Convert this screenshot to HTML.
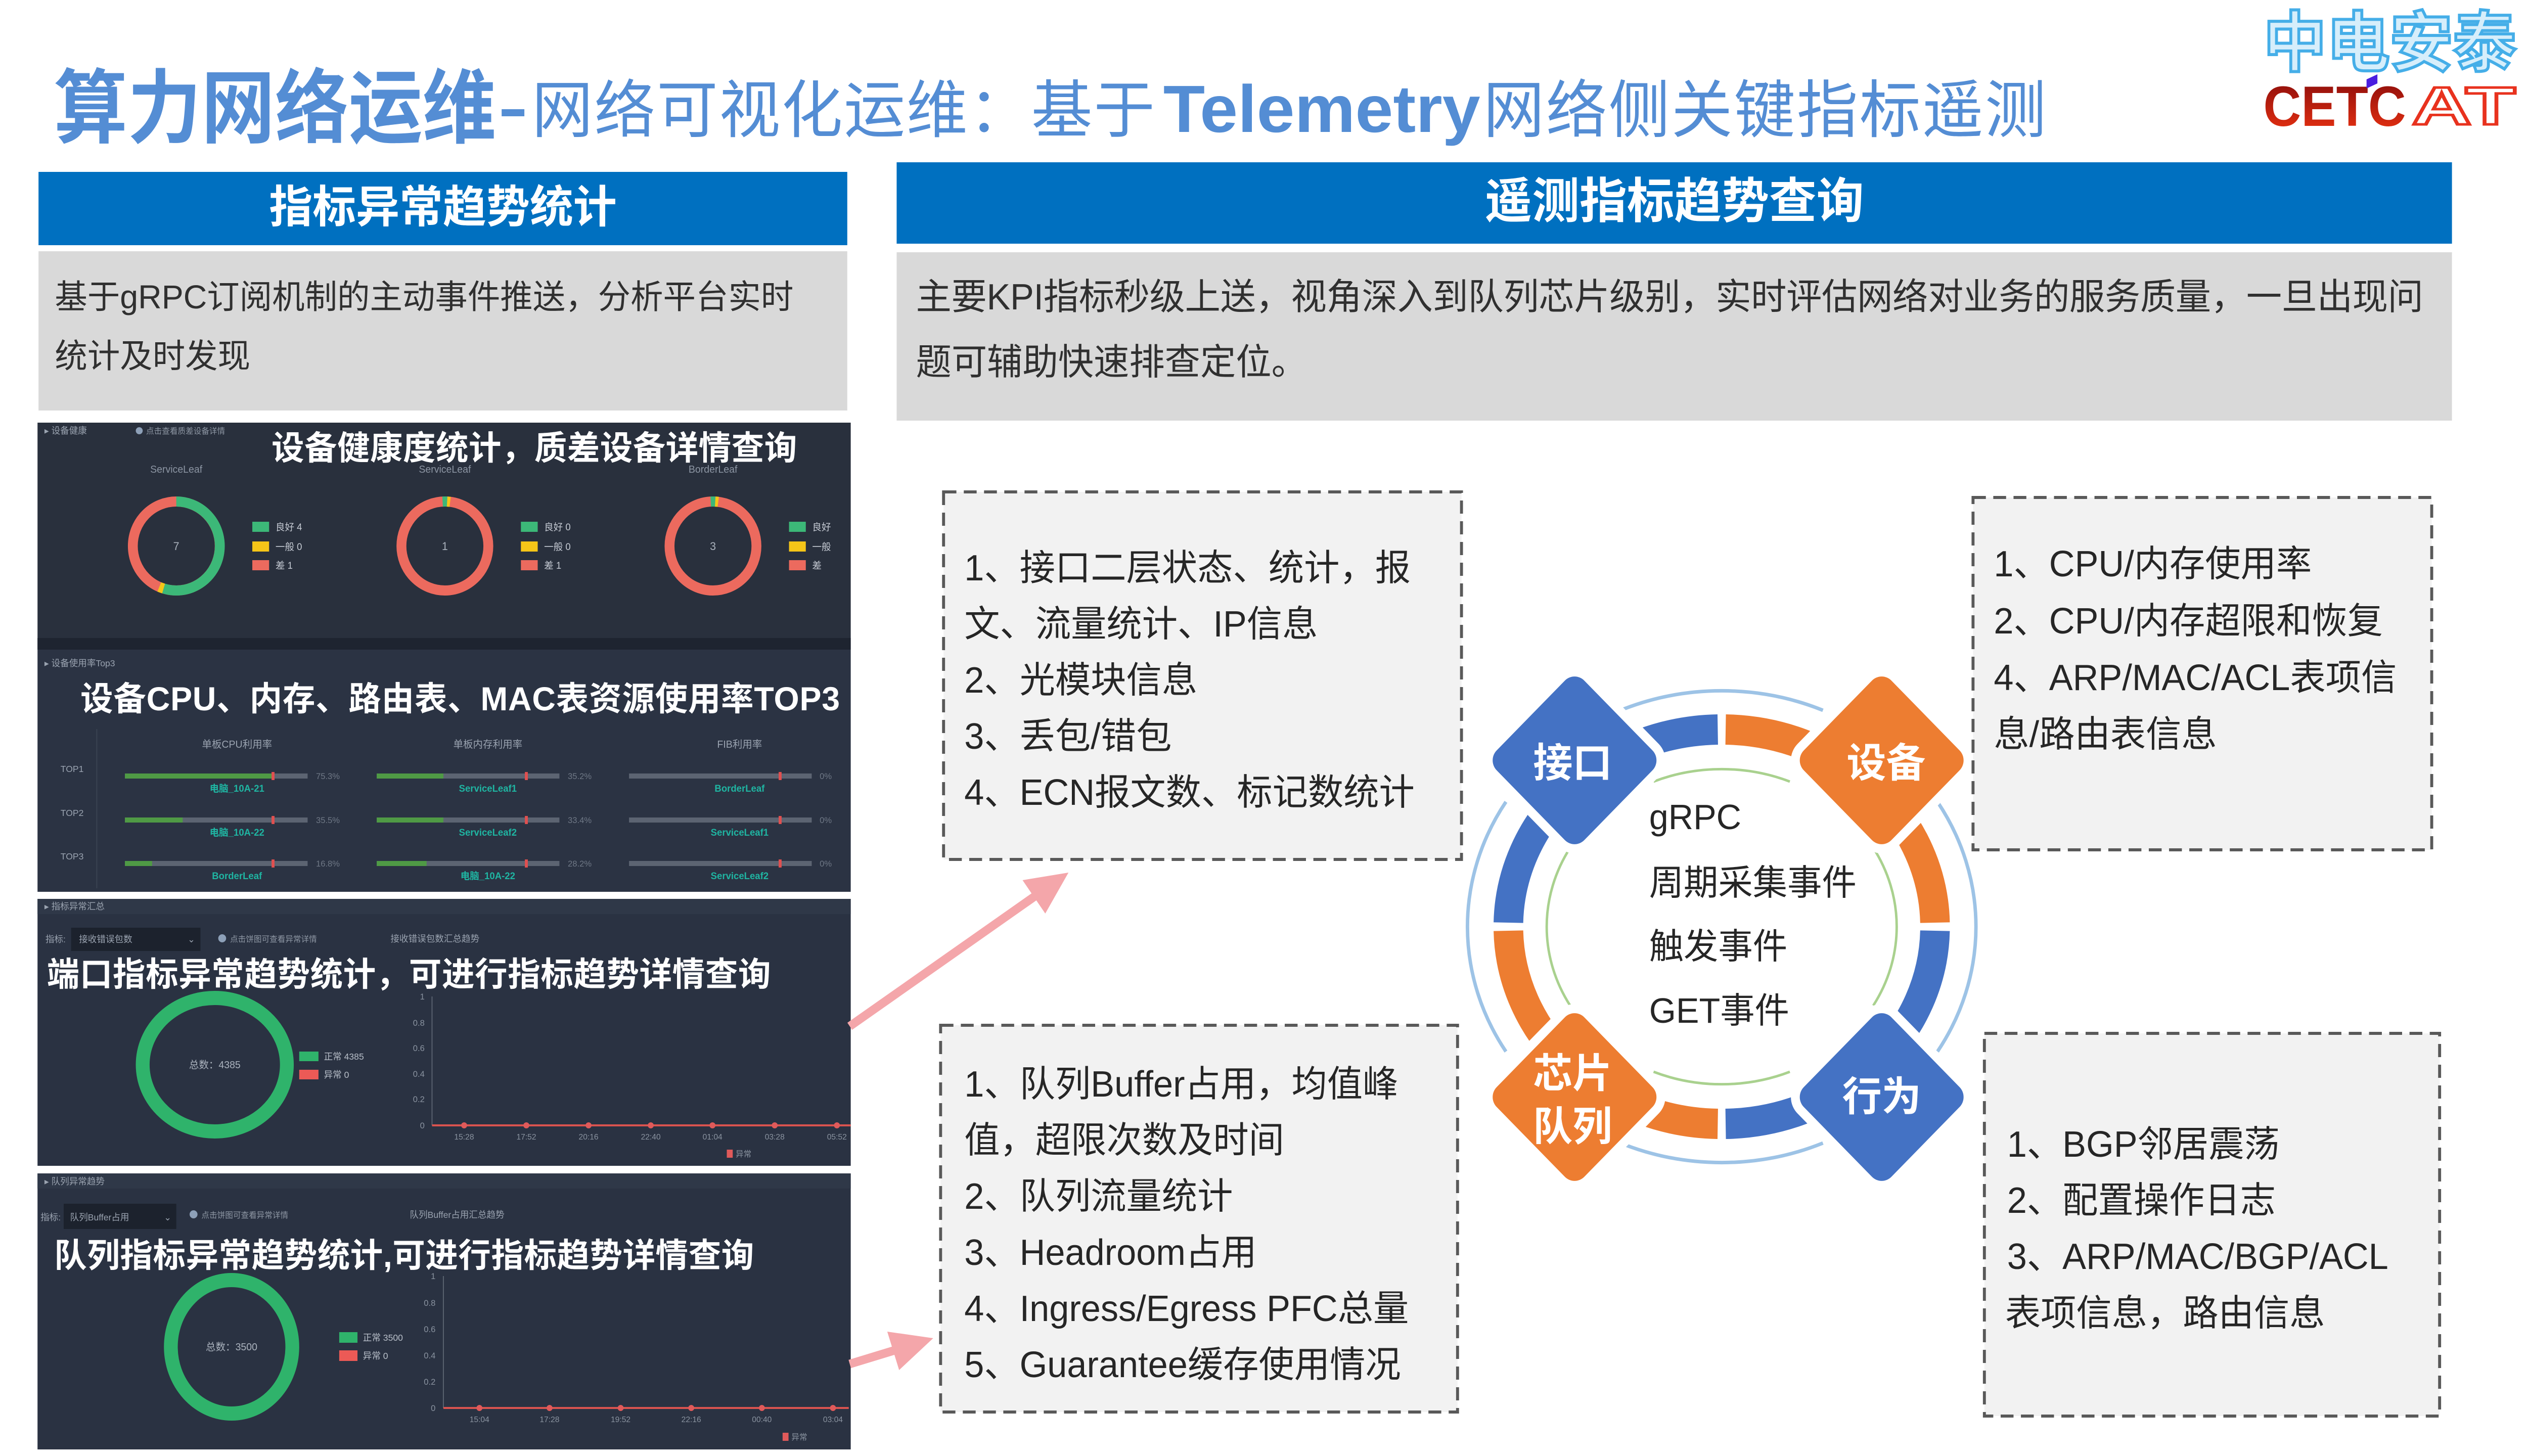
<!DOCTYPE html>
<html><head><meta charset="utf-8">
<style>
html,body{margin:0;padding:0;background:#fff;overflow:hidden;width:100%;height:100%;}
svg{display:block;position:absolute;left:0;top:0;width:100vw;height:100vh;}
text{font-family:"Liberation Sans","Noto Sans CJK SC",sans-serif;}
.b{font-weight:bold;}
.bx{font-size:72px;fill:#262626;}
.ct{font-size:70px;fill:#262626;}
.dl{font-size:80px;fill:#fff;font-weight:bold;}
.sm{font-size:18px;fill:#9aa3b0;}
.tiny{font-size:16px;fill:#8d96a3;}
.pt{font-size:66px;fill:#fff;font-weight:bold;}
</style></head><body>
<svg viewBox="0 0 5120 2880" preserveAspectRatio="none" xmlns="http://www.w3.org/2000/svg">
<defs>
<linearGradient id="cg" x1="0" y1="0" x2="0" y2="1"><stop offset="0" stop-color="#860b0b"/><stop offset="1" stop-color="#ef3412"/></linearGradient>
</defs>
<rect x="0" y="0" width="5120" height="2880" fill="#fff"/>

<!-- Title -->
<text class="b" x="109" y="270" font-size="160" fill="#548DD4" textLength="896" lengthAdjust="spacingAndGlyphs">算力网络运维</text>
<rect x="1016" y="216" width="46" height="14" fill="#548DD4"/>
<text x="1077" y="261" font-size="124" fill="#548DD4" textLength="1262">网络可视化运维：基于</text>
<text class="b" x="2356" y="261" font-size="132" fill="#548DD4" textLength="642" lengthAdjust="spacingAndGlyphs">Telemetry</text>
<text x="3004" y="261" font-size="124" fill="#548DD4" textLength="1140">网络侧关键指标遥测</text>

<!-- Logo -->
<text x="4584" y="130" font-size="130" font-weight="bold" fill="#d6eefb" stroke="#45aee8" stroke-width="6" textLength="512" lengthAdjust="spacingAndGlyphs">中电安泰</text>
<text x="4584" y="249" font-size="112" font-weight="bold" fill="url(#cg)" textLength="289" lengthAdjust="spacingAndGlyphs">CETC</text>
<polygon points="4793,157 4815,147 4815,165 4793,175" fill="#4a1ee0"/>
<text x="4885" y="246" font-size="106" font-weight="bold" fill="#fff" stroke="#e8321e" stroke-width="5" textLength="210" lengthAdjust="spacingAndGlyphs">AT</text>

<!-- Header bars -->
<rect x="78" y="340" width="1638" height="145" fill="#0070C0"/>
<text class="b" x="897" y="440" font-size="88" fill="#fff" text-anchor="middle">指标异常趋势统计</text>
<rect x="1816" y="321" width="3150" height="161" fill="#0070C0"/>
<text class="b" x="3391" y="431" font-size="96" fill="#fff" text-anchor="middle">遥测指标趋势查询</text>

<!-- Gray description boxes -->
<rect x="78" y="497" width="1638" height="315" fill="#d9d9d9"/>
<text x="111" y="610" font-size="66" fill="#303030" textLength="1496">基于gRPC订阅机制的主动事件推送，分析平台实时</text>
<text x="111" y="727" font-size="66" fill="#303030">统计及时发现</text>
<rect x="1816" y="499" width="3150" height="333" fill="#d9d9d9"/>
<text x="1855" y="612" font-size="72" fill="#303030" textLength="3053">主要KPI指标秒级上送，视角深入到队列芯片级别，实时评估网络对业务的服务质量，一旦出现问</text>
<text x="1855" y="741" font-size="72" fill="#303030">题可辅助快速排查定位。</text>

<!-- Panel A : device health -->
<rect x="76" y="836" width="1647" height="449" fill="#29303d"/>
<rect x="76" y="1262" width="1647" height="23" fill="#1e2430"/>
<text class="sm" x="90" y="858">▸ 设备健康</text>
<circle cx="282" cy="852" r="7" fill="#8da0b8"/>
<text class="tiny" x="296" y="858">点击查看质差设备详情</text>
<text class="pt" x="550" y="909" textLength="1064">设备健康度统计，质差设备详情查询</text>

<g fill="none" stroke-width="20">
  <circle cx="357" cy="1080" r="88" stroke="#ec6a5e"/>
  <path d="M357,992 A88,88 0 1 1 331.3,1164.1" stroke="#3cb878"/>
  <path d="M331.3,1164.1 A88,88 0 0 1 322.6,1161" stroke="#f5c518"/>
  <circle cx="901" cy="1080" r="88" stroke="#ec6a5e"/>
  <path d="M896.4,992.1 A88,88 0 0 1 905.6,992.1" stroke="#3cb878"/>
  <path d="M905.6,992.1 A88,88 0 0 1 911.7,992.7" stroke="#f5c518"/>
  <circle cx="1444" cy="1080" r="88" stroke="#ec6a5e"/>
  <path d="M1439.4,992.1 A88,88 0 0 1 1448.6,992.1" stroke="#3cb878"/>
  <path d="M1448.6,992.1 A88,88 0 0 1 1454.7,992.7" stroke="#f5c518"/>
</g>
<g font-size="20" fill="#8c95a3" text-anchor="middle">
  <text x="357" y="935">ServiceLeaf</text><text x="901" y="935">ServiceLeaf</text><text x="1444" y="935">BorderLeaf</text>
</g>
<g font-size="22" fill="#aab2bd" text-anchor="middle">
  <text x="357" y="1088">7</text><text x="901" y="1088">1</text><text x="1444" y="1088">3</text>
</g>
<g>
  <rect x="511" y="1032" width="34" height="20" fill="#3cb878"/><rect x="511" y="1071" width="34" height="20" fill="#f5c518"/><rect x="511" y="1108" width="34" height="20" fill="#ec6a5e"/>
  <rect x="1055" y="1032" width="34" height="20" fill="#3cb878"/><rect x="1055" y="1071" width="34" height="20" fill="#f5c518"/><rect x="1055" y="1108" width="34" height="20" fill="#ec6a5e"/>
  <rect x="1598" y="1032" width="34" height="20" fill="#3cb878"/><rect x="1598" y="1071" width="34" height="20" fill="#f5c518"/><rect x="1598" y="1108" width="34" height="20" fill="#ec6a5e"/>
</g>
<g font-size="19" fill="#c5cad3">
  <text x="558" y="1049">良好 4</text><text x="558" y="1088">一般 0</text><text x="558" y="1125">差 1</text>
  <text x="1102" y="1049">良好 0</text><text x="1102" y="1088">一般 0</text><text x="1102" y="1125">差 1</text>
  <text x="1645" y="1049">良好</text><text x="1645" y="1088">一般</text><text x="1645" y="1125">差</text>
</g>

<!-- Panel B : TOP3 -->
<rect x="76" y="1285" width="1647" height="479" fill="#2b3343"/>
<text class="sm" x="90" y="1318">▸ 设备使用率Top3</text>
<text class="pt" x="163" y="1405" textLength="1538">设备CPU、内存、路由表、MAC表资源使用率TOP3</text>
<line x1="196" y1="1442" x2="196" y2="1757" stroke="#3a4352" stroke-width="2"/>
<g font-size="20" fill="#9aa3b0" text-anchor="middle">
  <text x="480" y="1479">单板CPU利用率</text><text x="988" y="1479">单板内存利用率</text><text x="1498" y="1479">FIB利用率</text>
  <text x="146" y="1527" font-size="18">TOP1</text><text x="146" y="1614" font-size="18">TOP2</text><text x="146" y="1700" font-size="18">TOP3</text>
</g>
<g>
  <rect x="253" y="1530" width="370" height="10" fill="#5c6472"/><rect x="253" y="1530" width="297" height="10" fill="#4f9a45"/><rect x="550" y="1527" width="6" height="16" fill="#e05050"/>
  <rect x="253" y="1617" width="370" height="10" fill="#5c6472"/><rect x="253" y="1617" width="117" height="10" fill="#4f9a45"/><rect x="550" y="1614" width="6" height="16" fill="#e05050"/>
  <rect x="253" y="1703" width="370" height="10" fill="#5c6472"/><rect x="253" y="1703" width="55" height="10" fill="#4f9a45"/><rect x="550" y="1700" width="6" height="16" fill="#e05050"/>
  <rect x="763" y="1530" width="370" height="10" fill="#5c6472"/><rect x="763" y="1530" width="135" height="10" fill="#4f9a45"/><rect x="1063" y="1527" width="6" height="16" fill="#e05050"/>
  <rect x="763" y="1617" width="370" height="10" fill="#5c6472"/><rect x="763" y="1617" width="135" height="10" fill="#4f9a45"/><rect x="1063" y="1614" width="6" height="16" fill="#e05050"/>
  <rect x="763" y="1703" width="370" height="10" fill="#5c6472"/><rect x="763" y="1703" width="101" height="10" fill="#4f9a45"/><rect x="1063" y="1700" width="6" height="16" fill="#e05050"/>
  <rect x="1274" y="1530" width="370" height="10" fill="#5c6472"/><rect x="1577" y="1527" width="6" height="16" fill="#e05050"/>
  <rect x="1274" y="1617" width="370" height="10" fill="#5c6472"/><rect x="1577" y="1614" width="6" height="16" fill="#e05050"/>
  <rect x="1274" y="1703" width="370" height="10" fill="#5c6472"/><rect x="1577" y="1700" width="6" height="16" fill="#e05050"/>
</g>
<g font-size="17" fill="#6f7886">
  <text x="640" y="1541">75.3%</text><text x="640" y="1628">35.5%</text><text x="640" y="1714">16.8%</text>
  <text x="1150" y="1541">35.2%</text><text x="1150" y="1628">33.4%</text><text x="1150" y="1714">28.2%</text>
  <text x="1660" y="1541">0%</text><text x="1660" y="1628">0%</text><text x="1660" y="1714">0%</text>
</g>
<g font-size="19" fill="#1fb5a2" font-weight="bold" text-anchor="middle">
  <text x="480" y="1566">电脑_10A-21</text><text x="480" y="1653">电脑_10A-22</text><text x="480" y="1739">BorderLeaf</text>
  <text x="988" y="1566">ServiceLeaf1</text><text x="988" y="1653">ServiceLeaf2</text><text x="988" y="1739">电脑_10A-22</text>
  <text x="1498" y="1566">BorderLeaf</text><text x="1498" y="1653">ServiceLeaf1</text><text x="1498" y="1739">ServiceLeaf2</text>
</g>

<!-- Panel C : port -->
<rect x="76" y="1778" width="1647" height="528" fill="#2a3242"/>
<rect x="76" y="1778" width="1647" height="30" fill="#2f3848"/>
<text class="sm" x="90" y="1799">▸ 指标异常汇总</text>
<text class="sm" x="92" y="1864">指标:</text>
<rect x="144" y="1835" width="262" height="46" fill="#1c222d"/>
<text class="sm" x="160" y="1864">接收错误包数</text>
<text class="sm" x="380" y="1864">⌄</text>
<circle cx="450" cy="1856" r="8" fill="#8da0b8"/>
<text class="tiny" x="466" y="1863">点击饼图可查看异常详情</text>
<text class="sm" x="791" y="1863">接收错误包数汇总趋势</text>
<text class="pt" x="95" y="1950" textLength="1466">端口指标异常趋势统计，可进行指标趋势详情查询</text>
<ellipse cx="435" cy="2106" rx="146" ry="132" fill="none" stroke="#2fb36b" stroke-width="28"/>
<text x="435" y="2113" font-size="20" fill="#aab2bd" text-anchor="middle">总数：4385</text>
<rect x="606" y="2080" width="39" height="19" fill="#2fb36b"/><rect x="606" y="2116" width="39" height="19" fill="#ec5a56"/>
<text x="656" y="2096" font-size="18" fill="#b8bfc9">正常 4385</text><text x="656" y="2132" font-size="18" fill="#b8bfc9">异常 0</text>
<line x1="875" y1="1971" x2="875" y2="2226" stroke="#5a6370" stroke-width="2"/>
<g font-size="17" fill="#8a93a0" text-anchor="end">
  <text x="860" y="1977">1</text><text x="860" y="2029">0.8</text><text x="860" y="2079">0.6</text><text x="860" y="2130">0.4</text><text x="860" y="2180">0.2</text><text x="860" y="2232">0</text>
</g>
<line x1="875" y1="2226" x2="1723" y2="2226" stroke="#d9534f" stroke-width="4"/>
<g fill="#e05a5a">
  <circle cx="940" cy="2226" r="6"/><circle cx="1066" cy="2226" r="6"/><circle cx="1192" cy="2226" r="6"/><circle cx="1318" cy="2226" r="6"/><circle cx="1443" cy="2226" r="6"/><circle cx="1569" cy="2226" r="6"/><circle cx="1695" cy="2226" r="6"/>
</g>
<g font-size="16" fill="#8a93a0" text-anchor="middle">
  <text x="940" y="2254">15:28</text><text x="1066" y="2254">17:52</text><text x="1192" y="2254">20:16</text><text x="1318" y="2254">22:40</text><text x="1443" y="2254">01:04</text><text x="1569" y="2254">03:28</text><text x="1695" y="2254">05:52</text>
</g>
<rect x="1472" y="2274" width="12" height="16" fill="#e05a5a"/><text x="1490" y="2288" font-size="16" fill="#8a93a0">异常</text>

<!-- Panel D : queue -->
<rect x="76" y="2321" width="1647" height="546" fill="#2a3242"/>
<rect x="76" y="2321" width="1647" height="30" fill="#2f3848"/>
<text class="sm" x="90" y="2343">▸ 队列异常趋势</text>
<text class="sm" x="82" y="2414">指标:</text>
<rect x="129" y="2381" width="228" height="50" fill="#1c222d"/>
<text class="sm" x="142" y="2414">队列Buffer占用</text>
<text class="sm" x="332" y="2414">⌄</text>
<circle cx="392" cy="2402" r="8" fill="#8da0b8"/>
<text class="tiny" x="408" y="2409">点击饼图可查看异常详情</text>
<text class="sm" x="830" y="2409">队列Buffer占用汇总趋势</text>
<text class="pt" x="110" y="2506" textLength="1417">队列指标异常趋势统计,可进行指标趋势详情查询</text>
<ellipse cx="469" cy="2664" rx="123" ry="132" fill="none" stroke="#2fb36b" stroke-width="28"/>
<text x="469" y="2671" font-size="20" fill="#aab2bd" text-anchor="middle">总数：3500</text>
<rect x="687" y="2635" width="37" height="21" fill="#2fb36b"/><rect x="687" y="2671" width="37" height="21" fill="#ec5a56"/>
<text x="735" y="2652" font-size="18" fill="#b8bfc9">正常 3500</text><text x="735" y="2688" font-size="18" fill="#b8bfc9">异常 0</text>
<line x1="898" y1="2524" x2="898" y2="2785" stroke="#5a6370" stroke-width="2"/>
<g font-size="17" fill="#8a93a0" text-anchor="end">
  <text x="882" y="2530">1</text><text x="882" y="2583">0.8</text><text x="882" y="2635">0.6</text><text x="882" y="2687">0.4</text><text x="882" y="2739">0.2</text><text x="882" y="2791">0</text>
</g>
<line x1="898" y1="2785" x2="1719" y2="2785" stroke="#d9534f" stroke-width="4"/>
<g fill="#e05a5a">
  <circle cx="971" cy="2785" r="6"/><circle cx="1113" cy="2785" r="6"/><circle cx="1257" cy="2785" r="6"/><circle cx="1400" cy="2785" r="6"/><circle cx="1543" cy="2785" r="6"/><circle cx="1687" cy="2785" r="6"/>
</g>
<g font-size="16" fill="#8a93a0" text-anchor="middle">
  <text x="971" y="2813">15:04</text><text x="1113" y="2813">17:28</text><text x="1257" y="2813">19:52</text><text x="1400" y="2813">22:16</text><text x="1543" y="2813">00:40</text><text x="1687" y="2813">03:04</text>
</g>
<rect x="1585" y="2834" width="12" height="16" fill="#e05a5a"/><text x="1603" y="2848" font-size="16" fill="#8a93a0">异常</text>

<!-- Pink arrows -->
<g stroke="#F4A6AA" stroke-width="17" fill="none">
  <line x1="1721" y1="2030" x2="2100" y2="1770"/>
  <line x1="1721" y1="2698" x2="1815" y2="2670"/>
</g>
<polygon points="2164,1726 2117,1807 2071,1741" fill="#F4A6AA"/>
<polygon points="1890,2647 1821,2710 1797,2634" fill="#F4A6AA"/>

<!-- Circle diagram -->
<g fill="none" stroke="#9DC3E6" stroke-width="7">
  <path d="M3282,1405 A515,467 0 0 1 3692,1405"/>
  <path d="M3924,1586 A515,467 0 0 1 3924,2080"/>
  <path d="M3692,2261 A515,467 0 0 1 3282,2261"/>
  <path d="M3050,2080 A515,467 0 0 1 3050,1586"/>
</g>
<g fill="none" stroke="#A9D18E" stroke-width="5">
  <path d="M3349,1546 A354,312 0 0 1 3625,1546"/>
  <path d="M3794,1677 A354,312 0 0 1 3794,1989"/>
  <path d="M3625,2120 A354,312 0 0 1 3349,2120"/>
  <path d="M3180,1989 A354,312 0 0 1 3180,1677"/>
</g>
<g fill="none" stroke-width="60">
  <path d="M3055,1825 A432,390 0 0 1 3479,1443" stroke="#4472C4"/>
  <path d="M3495,1443 A432,390 0 0 1 3919,1825" stroke="#ED7D31"/>
  <path d="M3919,1841 A432,390 0 0 1 3495,2223" stroke="#4472C4"/>
  <path d="M3479,2223 A432,390 0 0 1 3055,1841" stroke="#ED7D31"/>
</g>
<g stroke="#fff" stroke-width="36" paint-order="stroke">
  <rect x="-125.5" y="-125.5" width="251" height="251" rx="28" fill="#4472C4" transform="translate(3189,1504) rotate(45)"/>
  <rect x="-125.5" y="-125.5" width="251" height="251" rx="28" fill="#ED7D31" transform="translate(3811,1504) rotate(45)"/>
  <rect x="-125.5" y="-125.5" width="251" height="251" rx="28" fill="#ED7D31" transform="translate(3189,2170) rotate(45)"/>
  <rect x="-125.5" y="-125.5" width="251" height="251" rx="28" fill="#4472C4" transform="translate(3811,2170) rotate(45)"/>
</g>
<g text-anchor="middle">
  <text class="dl" x="3185" y="1537">接口</text>
  <text class="dl" x="3820" y="1537">设备</text>
  <text class="dl" x="3811" y="2197">行为</text>
  <text class="dl" x="3185" y="2151">芯片</text>
  <text class="dl" x="3185" y="2256">队列</text>
</g>
<text class="ct" x="3340" y="1640">gRPC</text>
<text class="ct" x="3340" y="1770">周期采集事件</text>
<text class="ct" x="3340" y="1896">触发事件</text>
<text class="ct" x="3340" y="2023">GET事件</text>

<!-- Dashed boxes -->
<g fill="#f2f2f2" stroke="#595959" stroke-width="6" stroke-dasharray="26 15">
  <rect x="1911" y="973" width="1049" height="727"/>
  <rect x="3996" y="984" width="929" height="697"/>
  <rect x="1905" y="2028" width="1047" height="765"/>
  <rect x="4019" y="2044" width="922" height="757"/>
</g>
<text class="bx" x="1953" y="1148">1、接口二层状态、统计，报</text>
<text class="bx" x="1953" y="1259">文、流量统计、IP信息</text>
<text class="bx" x="1953" y="1370">2、光模块信息</text>
<text class="bx" x="1953" y="1481">3、丢包/错包</text>
<text class="bx" x="1953" y="1592">4、ECN报文数、标记数统计</text>

<text class="bx" x="4038" y="1140">1、CPU/内存使用率</text>
<text class="bx" x="4038" y="1253">2、CPU/内存超限和恢复</text>
<text class="bx" x="4038" y="1365">4、ARP/MAC/ACL表项信</text>
<text class="bx" x="4038" y="1477">息/路由表信息</text>

<text class="bx" x="1953" y="2169">1、队列Buffer占用，均值峰</text>
<text class="bx" x="1953" y="2280">值，超限次数及时间</text>
<text class="bx" x="1953" y="2391">2、队列流量统计</text>
<text class="bx" x="1953" y="2502">3、Headroom占用</text>
<text class="bx" x="1953" y="2613">4、Ingress/Egress PFC总量</text>
<text class="bx" x="1953" y="2724">5、Guarantee缓存使用情况</text>

<text class="bx" x="4065" y="2288">1、BGP邻居震荡</text>
<text class="bx" x="4065" y="2399">2、配置操作日志</text>
<text class="bx" x="4065" y="2510">3、ARP/MAC/BGP/ACL</text>
<text class="bx" x="4061" y="2622">表项信息，路由信息</text>
</svg>
</body></html>
